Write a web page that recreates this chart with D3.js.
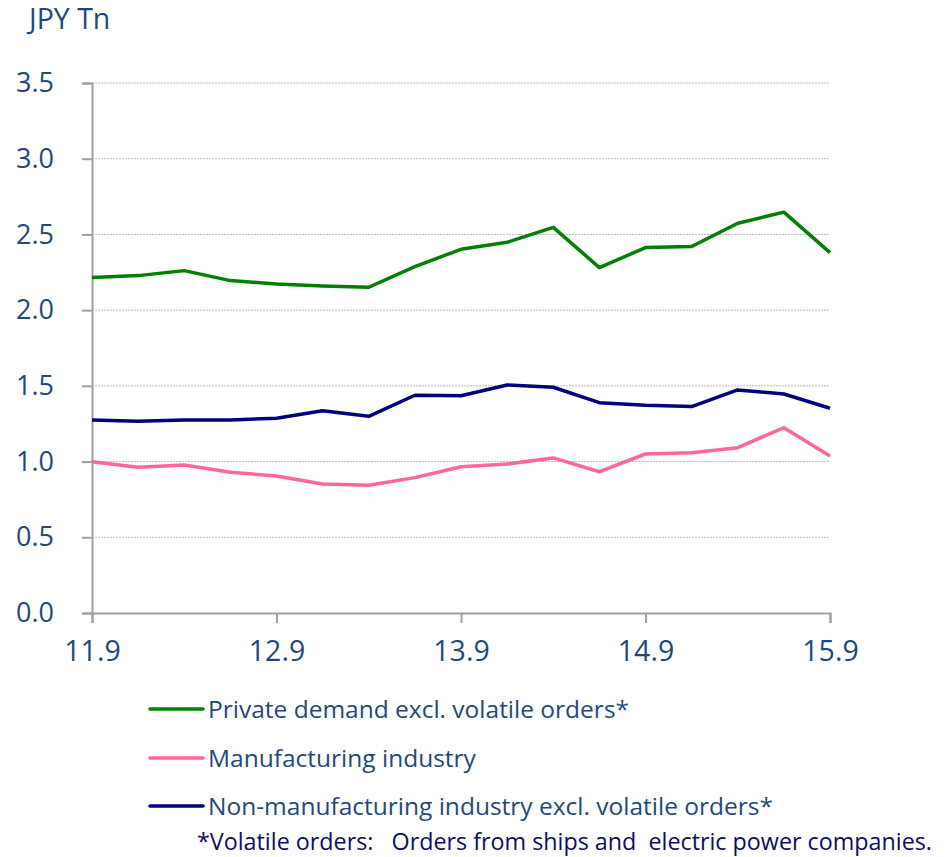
<!DOCTYPE html>
<html>
<head>
<meta charset="utf-8">
<script src="https://cdn.jsdelivr.net/npm/d3@7"></script>
<style>
  body { margin: 0; background: #fff; }
  text { font-family: "Open Sans", sans-serif; }
</style>
</head>
<body>
<svg id="chart" width="948" height="857"></svg>
<script>
// quarterly, 2011.9 .. 2015.9
const quarters = d3.range(17);
const tickLabels = ["11.9", "12.9", "13.9", "14.9", "15.9"];
const yTicks = [0, 0.5, 1.0, 1.5, 2.0, 2.5, 3.0, 3.5];

const privateDemand = [2.215, 2.228, 2.261, 2.195, 2.173, 2.160, 2.151, 2.287, 2.402,
  2.448, 2.547, 2.281, 2.413, 2.420, 2.574, 2.647, 2.380];
const manufacturing = [0.999, 0.962, 0.977, 0.929, 0.905, 0.852, 0.843, 0.894, 0.966,
  0.984, 1.024, 0.933, 1.050, 1.059, 1.092, 1.224, 1.037];
const nonManufacturing = [1.275, 1.266, 1.275, 1.275, 1.286, 1.336, 1.299, 1.438, 1.435,
  1.506, 1.491, 1.389, 1.372, 1.363, 1.473, 1.446, 1.352];

const series = [
  { name: "Private demand excl. volatile orders*", values: privateDemand, color: "#008000" },
  { name: "Manufacturing industry", values: manufacturing, color: "#ff6699" },
  { name: "Non-manufacturing industry excl. volatile orders*", values: nonManufacturing, color: "#000080" }
];

const svg = d3.select("#chart");
const textColor = "#1f497d";
const axisColor = "#a0a0a0";

const x = d3.scaleLinear().domain([0, 16]).range([92, 830]);
const y = d3.scaleLinear().domain([0, 3.5]).range([613, 83]);

// gridlines
svg.append("g")
  .selectAll("line")
  .data(yTicks.filter(d => d > 0))
  .enter().append("line")
  .attr("x1", x(0)).attr("x2", x(16))
  .attr("y1", d => y(d)).attr("y2", d => y(d))
  .attr("stroke", "#bbb")
  .attr("stroke-width", 1)
  .attr("stroke-dasharray", "2,1");

// y axis
const yAxis = svg.append("g")
  .attr("transform", `translate(${x(0)},0)`)
  .call(d3.axisLeft(y).tickValues(yTicks).tickFormat(d3.format(".1f")).tickSize(10).tickPadding(28));
yAxis.select(".domain").attr("stroke", axisColor).attr("stroke-width", 2);
yAxis.selectAll(".tick line").attr("stroke", axisColor).attr("stroke-width", 2);
yAxis.selectAll(".tick text")
  .attr("fill", textColor)
  .attr("font-size", 27)
  .attr("font-family", "Open Sans");

// x axis
const xAxis = svg.append("g")
  .attr("transform", `translate(0,${y(0)})`)
  .call(d3.axisBottom(x).tickValues([0, 4, 8, 12, 16]).tickFormat((d, i) => tickLabels[i]).tickSize(10).tickPadding(18));
xAxis.select(".domain").attr("stroke", axisColor).attr("stroke-width", 2);
xAxis.selectAll(".tick line").attr("stroke", axisColor).attr("stroke-width", 2);
xAxis.selectAll(".tick text")
  .attr("fill", textColor)
  .attr("font-size", 28.5)
  .attr("font-family", "Open Sans");

// unit label
svg.append("text")
  .attr("x", 29).attr("y", 29)
  .attr("fill", textColor)
  .attr("font-size", 28.5)
  .text("JPY Tn");

// lines
const line = d3.line()
  .x((d, i) => x(quarters[i]))
  .y(d => y(d));

svg.selectAll(".series")
  .data(series)
  .enter().append("path")
  .attr("class", "series")
  .attr("d", d => line(d.values))
  .attr("fill", "none")
  .attr("stroke", d => d.color)
  .attr("stroke-width", 3.5)
  .attr("stroke-linejoin", "round");

// legend
const legendY = [709, 758, 806];
const legend = svg.selectAll(".legend")
  .data(series)
  .enter().append("g")
  .attr("class", "legend")
  .attr("transform", (d, i) => `translate(150,${legendY[i]})`);
legend.append("line")
  .attr("x1", 0).attr("x2", 53)
  .attr("stroke", d => d.color)
  .attr("stroke-width", 3.5)
  .attr("stroke-linecap", "round");
legend.append("text")
  .attr("x", 58).attr("y", 9)
  .attr("fill", textColor)
  .attr("font-size", 24.5)
  .text(d => d.name);

// footnote
svg.append("text")
  .attr("x", 197).attr("y", 850)
  .attr("fill", "#0d0d6b")
  .attr("font-size", 23.3)
  .attr("xml:space", "preserve")
  .style("white-space", "pre")
  .text("*Volatile orders:   Orders from ships and  electric power companies.");
</script>
</body>
</html>
